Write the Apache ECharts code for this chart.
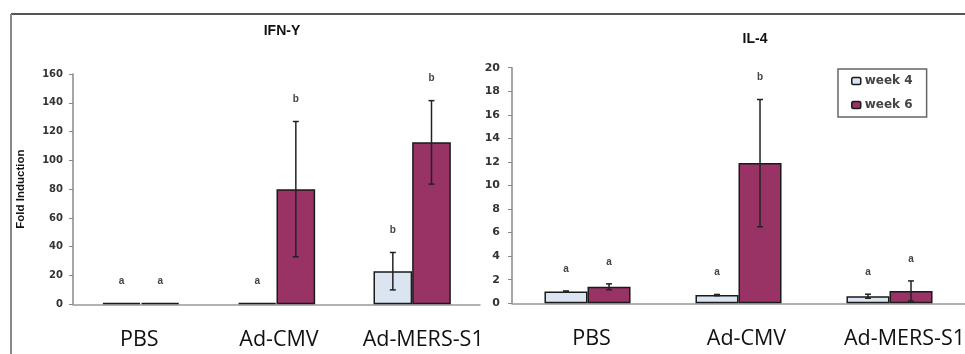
<!DOCTYPE html>
<html><head><meta charset="utf-8">
<script src="https://cdn.jsdelivr.net/npm/echarts@6/dist/echarts.min.js"></script>
<style>html,body{margin:0;padding:0;background:#fff}#c{width:965px;height:354px}</style>
</head><body><div id="c"></div>
<script>
// ---- data ----
const categories = ['PBS', 'Ad-CMV', 'Ad-MERS-S1'];
const seriesNames = ['week 4', 'week 6'];
// IFN-Y (left panel)
const ifnWeek4 = [1, 1, 23];
const ifnWeek6 = [1, 80, 112.5];
const ifnWeek4Err = [0, 0, 13];
const ifnWeek6Err = [0, 47, 29];
const ifnWeek4Letters = ['a', 'a', 'b'];
const ifnWeek6Letters = ['a', 'b', 'b'];
// IL-4 (right panel)
const il4Week4 = [1.0, 0.7, 0.6];
const il4Week6 = [1.4, 11.9, 1.05];
const il4Week4Err = [0.05, 0.05, 0.17];
const il4Week6Err = [0.25, 5.4, 0.85];
const il4Week4Letters = ['a', 'a', 'a'];
const il4Week6Letters = ['a', 'b', 'a'];
const ifnTicks = {min: 0, max: 160, interval: 20};
const il4Ticks = {min: 0, max: 20, interval: 2};

// ---- styles ----
const C4 = '#dbe5f1', C6 = '#993366', EDGE = '#1a1a1a';
const GAP = 0.43; // barCategoryGap
const catFont = {fontFamily: 'Open Sans', fontSize: 21.5, color: '#111'};

function errSeries(gi, vals, errs, letters, side) {
  return {
    type: 'custom', xAxisIndex: gi, yAxisIndex: gi, z: 10, clip: false, silent: true,
    data: vals.map((v, i) => [i, v, errs[i]]),
    renderItem(params, api) {
      const i = api.value(0), v = api.value(1), e = api.value(2);
      const cw = api.size([1, 0])[0];
      const bw = cw * (1 - GAP) / 2;
      const c = api.coord([i, v]);
      const x = c[0] + side * bw / 2;
      const yt = api.coord([i, v + e])[1];
      const yb = api.coord([i, v - e])[1];
      const st = {stroke: '#222', lineWidth: 1.5};
      const ch = [];
      if (e > 0) {
        ch.push({type: 'line', shape: {x1: x, y1: yt, x2: x, y2: yb}, style: st});
        ch.push({type: 'line', shape: {x1: x - 3, y1: yt, x2: x + 3, y2: yt}, style: st});
        ch.push({type: 'line', shape: {x1: x - 3, y1: yb, x2: x + 3, y2: yb}, style: st});
      }
      ch.push({type: 'text', style: {x: x, y: yt - 22, text: letters[params.dataIndex],
        align: 'center', verticalAlign: 'middle', fill: '#444',
        font: 'bold 10px "Liberation Sans", Arial, sans-serif'}});
      return {type: 'group', children: ch};
    }
  };
}
function barSeries(gi, name, vals, color) {
  return {type: 'bar', name, xAxisIndex: gi, yAxisIndex: gi, data: vals,
    barCategoryGap: (GAP * 100) + '%', barGap: '0%',
    itemStyle: {color, borderColor: EDGE, borderWidth: 1.5}};
}
function xAxis(gi, shifts) {
  const rich = {};
  shifts.forEach((s, k) => {
    rich['s' + k] = Object.assign({}, catFont, {padding: s >= 0 ? [0, 0, 0, 2 * s] : [0, -2 * s, 0, 0]});
  });
  return {type: 'category', gridIndex: gi, data: categories,
    axisLine: {lineStyle: {color: '#999', width: 1.5}},
    axisTick: {length: 3, lineStyle: {color: '#999'}},
    axisLabel: Object.assign({}, catFont, {interval: 0, margin: 25,
      formatter: (v, idx) => '{s' + idx + '|' + v + '}', rich})};
}
function yAxis(gi, ticks, fs, margin, extra) {
  return Object.assign({type: 'value', gridIndex: gi, min: ticks.min, max: ticks.max, interval: ticks.interval,
    axisLine: {show: true, lineStyle: {color: '#888', width: 1.5}},
    axisTick: {show: true, length: 4, lineStyle: {color: '#888'}},
    splitLine: {show: false},
    axisLabel: {fontFamily: 'DejaVu Sans', fontWeight: 'bold', fontSize: fs, color: '#333', margin}}, extra || {});
}

const chart = echarts.init(document.getElementById('c'), null, {renderer: 'canvas'});
chart.setOption({
  animation: false,
  backgroundColor: '#fff',
  title: [
    {text: 'IFN-Y', left: 282, top: 24, padding: 0, textAlign: 'center',
      textStyle: {fontFamily: 'Liberation Sans', fontWeight: 'bold', fontSize: 14, color: '#111'}},
    {text: 'IL-4', left: 755, top: 32, padding: 0, textAlign: 'center',
      textStyle: {fontFamily: 'Liberation Sans', fontWeight: 'bold', fontSize: 14, color: '#111'}}
  ],
  legend: {
    data: seriesNames, orient: 'vertical', left: 838, top: 69,
    padding: [6, 14, 6, 13], itemGap: 12, itemWidth: 9, itemHeight: 7,
    borderColor: '#666', borderWidth: 1.5,
    itemStyle: {borderColor: EDGE, borderWidth: 1.5},
    textStyle: {fontFamily: 'DejaVu Sans', fontWeight: 'bold', fontSize: 12, color: '#444', padding: [0, 0, 0, -1]},
    selectedMode: false
  },
  grid: [
    {left: 73, top: 74, width: 407, height: 230.3, containLabel: false, outerBoundsMode: 'none'},
    {left: 512, top: 67.7, width: 453, height: 235.6, containLabel: false, outerBoundsMode: 'none'}
  ],
  xAxis: [xAxis(0, [-1.5, 2.5, 11]), xAxis(1, [4, 8, 15])],
  yAxis: [
    yAxis(0, ifnTicks, 10, 10, {name: 'Fold Induction', nameLocation: 'middle', nameRotate: 90, nameGap: 46,
      nameTextStyle: {fontFamily: 'Liberation Sans', fontWeight: 'bold', fontSize: 11.5, color: '#111'}}),
    yAxis(1, il4Ticks, 11, 12)
  ],
  series: [
    barSeries(0, 'week 4', ifnWeek4, C4),
    barSeries(0, 'week 6', ifnWeek6, C6),
    errSeries(0, ifnWeek4, ifnWeek4Err, ifnWeek4Letters, -1),
    errSeries(0, ifnWeek6, ifnWeek6Err, ifnWeek6Letters, 1),
    barSeries(1, 'week 4', il4Week4, C4),
    barSeries(1, 'week 6', il4Week6, C6),
    errSeries(1, il4Week4, il4Week4Err, il4Week4Letters, -1),
    errSeries(1, il4Week6, il4Week6Err, il4Week6Letters, 1)
  ],
  graphic: [
    {type: 'line', shape: {x1: 11, y1: 14, x2: 965, y2: 14}, style: {stroke: '#555', lineWidth: 2}},
    {type: 'line', shape: {x1: 11, y1: 14, x2: 11, y2: 354}, style: {stroke: '#888', lineWidth: 2}}
  ]
});
</script></body></html>
